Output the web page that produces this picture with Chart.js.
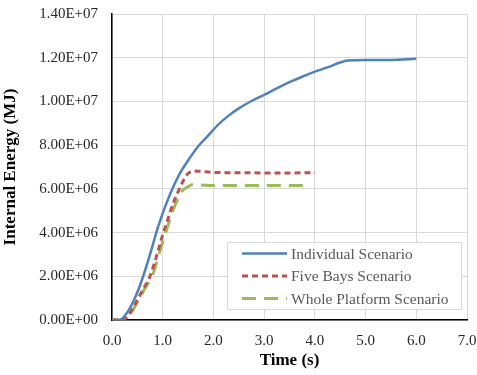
<!DOCTYPE html>
<html>
<head>
<meta charset="utf-8">
<script src="https://cdn.jsdelivr.net/npm/chart.js@4.4.1/dist/chart.umd.min.js"></script>
<style>
  html, body { margin: 0; padding: 0; background: #fff; }
  #wrap { width: 477px; height: 375px; }
</style>
</head>
<body>
<div id="wrap"><canvas id="chart" width="477" height="375"></canvas></div>
<script>
'use strict';

// time (s) and internal energy (MJ)
var individualTime = [0, 0.15, 0.3, 0.45, 0.6, 0.75, 0.9, 1.05, 1.2, 1.35, 1.5, 1.7, 1.9, 2.1, 2.3, 2.5, 2.75, 3.0, 3.25, 3.5, 3.75, 4.0, 4.25, 4.5, 4.65, 5.0, 5.5, 6.0];
var individualEnergy = [0, 0, 0.35e6, 1.0e6, 1.9e6, 3.0e6, 4.2e6, 5.2e6, 6.05e6, 6.75e6, 7.3e6, 7.95e6, 8.45e6, 8.95e6, 9.35e6, 9.68e6, 10.02e6, 10.3e6, 10.6e6, 10.88e6, 11.13e6, 11.36e6, 11.56e6, 11.78e6, 11.87e6, 11.9e6, 11.9e6, 11.95e6];

var fiveBaysTime = [0, 0.2, 0.3, 0.45, 0.6, 0.75, 0.9, 1.0, 1.1, 1.2, 1.3, 1.4, 1.5, 1.6, 1.75, 2.0, 2.5, 3.0, 3.5, 4.0];
var fiveBaysEnergy = [0, 0, 0.15e6, 0.7e6, 1.35e6, 2.0e6, 3.1e6, 3.9e6, 4.6e6, 5.3e6, 5.85e6, 6.35e6, 6.7e6, 6.82e6, 6.8e6, 6.75e6, 6.74e6, 6.73e6, 6.73e6, 6.74e6];

var wholeTime = [0, 0.25, 0.35, 0.5, 0.65, 0.8, 0.95, 1.1, 1.2, 1.3, 1.4, 1.5, 1.6, 1.75, 2.0, 2.5, 3.0, 3.5, 3.8];
var wholeEnergy = [0, 0, 0.25e6, 0.8e6, 1.45e6, 2.05e6, 3.2e6, 4.3e6, 5.0e6, 5.55e6, 5.95e6, 6.1e6, 6.2e6, 6.18e6, 6.15e6, 6.15e6, 6.15e6, 6.15e6, 6.15e6];

var seriesNames = ['Individual Scenario', 'Five Bays Scenario', 'Whole Platform Scenario'];

function toPoints(xs, ys) {
    return xs.map(function (x, i) { return { x: x, y: ys[i] }; });
}

function sciLabel(v) {
    if (v === 0) return '0.00E+00';
    var exp = Math.floor(Math.log10(Math.abs(v)) + 1e-9);
    var mant = v / Math.pow(10, exp);
    var e = (exp < 0 ? '-' : '+') + (Math.abs(exp) < 10 ? '0' : '') + Math.abs(exp);
    return mant.toFixed(2) + 'E' + e;
}

var serif = "'Liberation Serif', 'Times New Roman', serif";

// legend box drawn inside the plot, like the original
var boxLegend = {
    id: 'boxLegend',
    afterDraw: function (chart) {
        var ctx = chart.ctx;
        var left = 227, top = 242, w = 234, h = 67;
        ctx.save();
        ctx.fillStyle = '#fff';
        ctx.fillRect(left, top, w, h);
        ctx.strokeStyle = '#d9d9d9';
        ctx.lineWidth = 1;
        ctx.strokeRect(left + 0.5, top + 0.5, w, h);
        chart.data.datasets.forEach(function (ds, i) {
            var y = top + 11.5 + i * 22.5;
            ctx.beginPath();
            ctx.setLineDash(ds.borderDash || []);
            ctx.strokeStyle = ds.borderColor;
            ctx.lineWidth = ds.borderWidth;
            ctx.moveTo(left + 15, y);
            ctx.lineTo(left + 60, y);
            ctx.stroke();
            ctx.setLineDash([]);
            ctx.fillStyle = '#595959';
            ctx.font = '15.5px ' + serif;
            ctx.textBaseline = 'middle';
            ctx.fillText(ds.label, left + 64, y + 1);
        });
        ctx.restore();
    }
};

new Chart(document.getElementById('chart'), {
    type: 'line',
    data: {
        datasets: [{
            label: seriesNames[0],
            data: toPoints(individualTime, individualEnergy),
            borderColor: '#4f81bd',
            borderWidth: 2.5,
            pointRadius: 0,
            cubicInterpolationMode: 'monotone'
        }, {
            label: seriesNames[1],
            data: toPoints(fiveBaysTime, fiveBaysEnergy),
            borderColor: '#c0504d',
            borderWidth: 3,
            borderDash: [6, 4],
            pointRadius: 0,
            cubicInterpolationMode: 'monotone'
        }, {
            label: seriesNames[2],
            data: toPoints(wholeTime, wholeEnergy),
            borderColor: '#9bbb59',
            borderWidth: 3,
            borderDash: [14, 8],
            pointRadius: 0,
            cubicInterpolationMode: 'monotone'
        }]
    },
    options: {
        responsive: false,
        animation: false,
        layout: { padding: { left: 0, right: 10, top: 14, bottom: 0 } },
        plugins: {
            legend: { display: false },
            tooltip: { enabled: false }
        },
        scales: {
            x: {
                type: 'linear',
                min: 0,
                max: 7,
                border: { color: '#000', width: 1.5 },
                grid: { color: '#d9d9d9', drawTicks: false },
                ticks: {
                    stepSize: 1,
                    padding: 12,
                    color: '#262626',
                    font: { family: serif, size: 15 },
                    callback: function (v) { return v.toFixed(1); }
                },
                title: {
                    display: true,
                    text: 'Time (s)',
                    color: '#000',
                    font: { family: serif, size: 17, weight: 'bold' },
                    padding: { top: 2 }
                },
                afterFit: function (scale) {
                    scale.height = 55;
                    scale.paddingLeft = 0;
                    scale.paddingRight = 0;
                }
            },
            y: {
                min: 0,
                max: 1.4e7,
                border: { color: '#000', width: 1.5 },
                grid: { color: '#d9d9d9', drawTicks: false },
                ticks: {
                    stepSize: 2e6,
                    padding: 14,
                    color: '#262626',
                    font: { family: serif, size: 15 },
                    callback: function (v) { return sciLabel(v); }
                },
                title: {
                    display: true,
                    text: 'Internal Energy (MJ)',
                    color: '#000',
                    font: { family: serif, size: 17, weight: 'bold' },
                    padding: { top: 0, bottom: 0 }
                },
                afterFit: function (scale) {
                    scale.width = 112;
                    scale.paddingTop = 0;
                    scale.paddingBottom = 0;
                }
            }
        }
    },
    plugins: [boxLegend]
});
</script>
</body>
</html>
